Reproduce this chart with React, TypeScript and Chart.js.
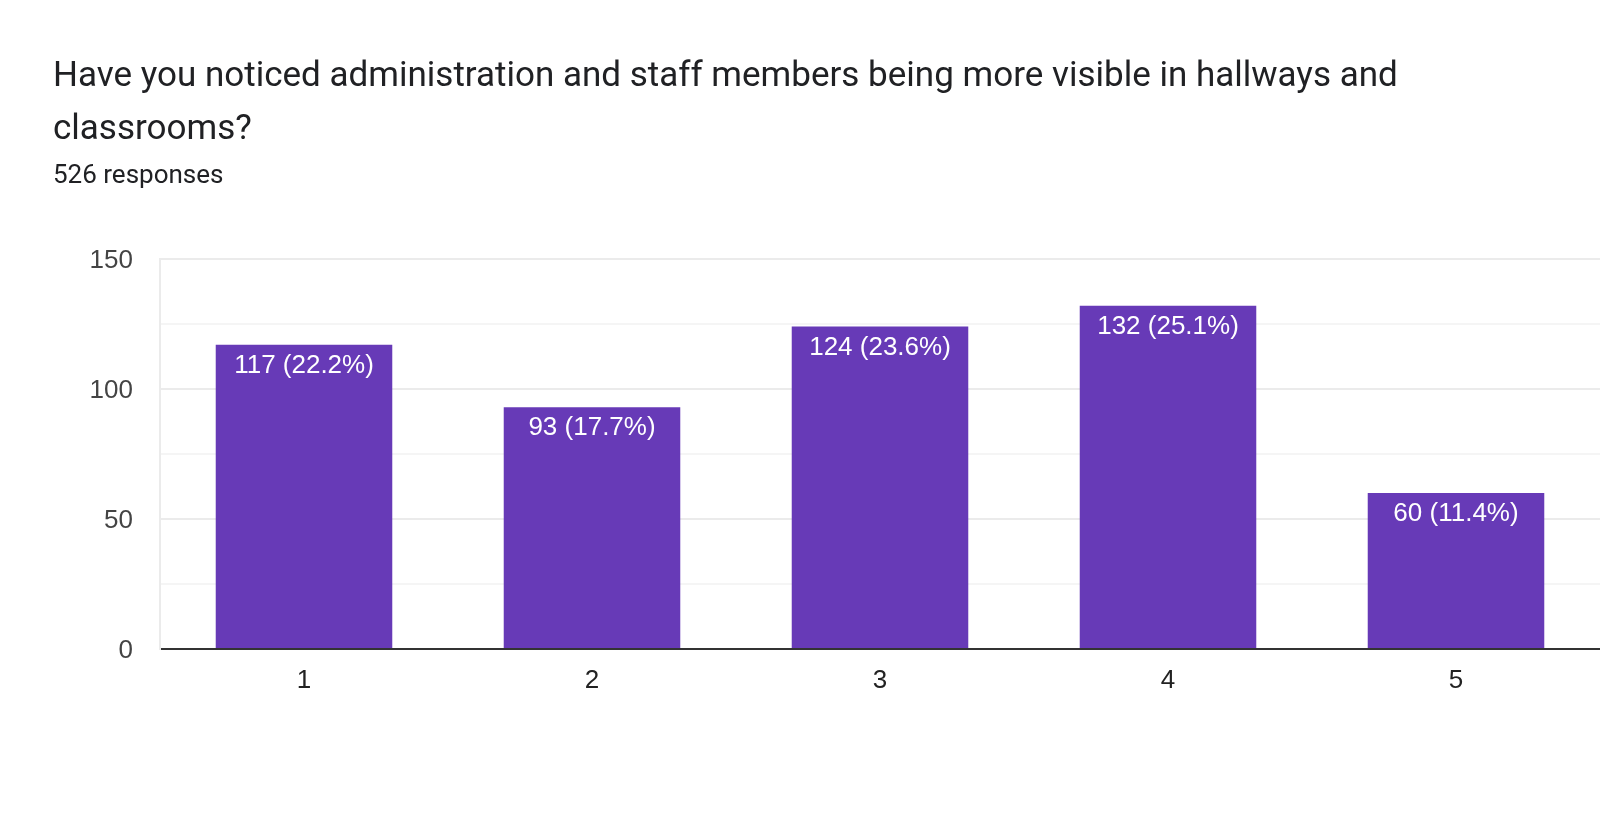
import React, { useEffect, useRef } from "react";
import { Chart, registerables } from "chart.js";

Chart.register(...registerables);

const TITLE = "Have you noticed administration and staff members being more visible in hallways and classrooms?";
const SUBTITLE = "526 responses";
const categories = ["1", "2", "3", "4", "5"];
const counts = [117, 93, 124, 132, 60];
const percents = ["22.2%", "17.7%", "23.6%", "25.1%", "11.4%"];
const yMax = 150;
const yStep = 25;
const yLabelStep = 50;

const FONT = "'Liberation Sans', Arial, sans-serif";

const barLabels = {
  id: "barLabels",
  afterDatasetsDraw(chart: any) {
    const ctx = chart.ctx;
    const meta = chart.getDatasetMeta(0);
    ctx.save();
    ctx.fillStyle = "#ffffff";
    ctx.font = `26px ${FONT}`;
    ctx.textAlign = "center";
    ctx.textBaseline = "top";
    meta.data.forEach((bar: any, i: number) => {
      ctx.fillText(`${counts[i]} (${percents[i]})`, bar.x, bar.y + 8);
    });
    ctx.restore();
  },
};

export default function App() {
  const ref = useRef<HTMLCanvasElement | null>(null);
  useEffect(() => {
    document.body.style.margin = "0";
    const chart = new Chart(ref.current as HTMLCanvasElement, {
      type: "bar",
      data: {
        labels: categories,
        datasets: [
          {
            data: counts,
            backgroundColor: "#673ab7",
            borderWidth: 0,
            categoryPercentage: 0.613,
            barPercentage: 1,
          },
        ],
      },
      plugins: [barLabels],
      options: {
        animation: false,
        responsive: false,
        maintainAspectRatio: false,
        layout: { padding: { left: 0, top: 259, right: 0, bottom: 104 } },
        plugins: { legend: { display: false }, tooltip: { enabled: false } },
        scales: {
          x: {
            afterFit: (s: any) => {
              s.height = 60;
            },
            grid: { display: false, drawTicks: false },
            border: { display: true, color: "#333333", width: 2 },
            ticks: {
              color: "#222222",
              padding: 16,
              font: { family: FONT, size: 26 },
            },
          },
          y: {
            min: 0,
            max: yMax,
            afterFit: (s: any) => {
              s.width = 160;
            },
            grid: {
              drawTicks: false,
              lineWidth: 2,
              color: (c: any) => (c.tick && c.tick.value % yLabelStep === 0 ? "#ebebeb" : "#f5f5f5"),
            },
            border: { display: true, color: "#ebebeb", width: 2 },
            ticks: {
              stepSize: yStep,
              color: "#444444",
              padding: 27,
              labelOffset: 2,
              font: { family: FONT, size: 26 },
              callback: (v: any) => (Number(v) % yLabelStep === 0 ? String(v) : ""),
            },
          },
        },
      },
    });
    return () => chart.destroy();
  }, []);

  return (
    <div style={{ position: "relative", width: 1600, height: 813, background: "#fff", overflow: "hidden" }}>
      <canvas ref={ref} width={1600} height={813} style={{ position: "absolute", left: 0, top: 0, width: 1600, height: 813 }} />
      <div
        style={{
          position: "absolute",
          left: 53,
          top: 48,
          width: 1420,
          fontFamily: "Roboto, sans-serif",
          fontSize: 35,
          lineHeight: "53px",
          color: "#202124",
        }}
      >
        {TITLE}
      </div>
      <div
        style={{
          position: "absolute",
          left: 53,
          top: 158,
          fontFamily: "Roboto, sans-serif",
          fontSize: 26,
          lineHeight: "32px",
          color: "#202124",
        }}
      >
        {SUBTITLE}
      </div>
    </div>
  );
}
